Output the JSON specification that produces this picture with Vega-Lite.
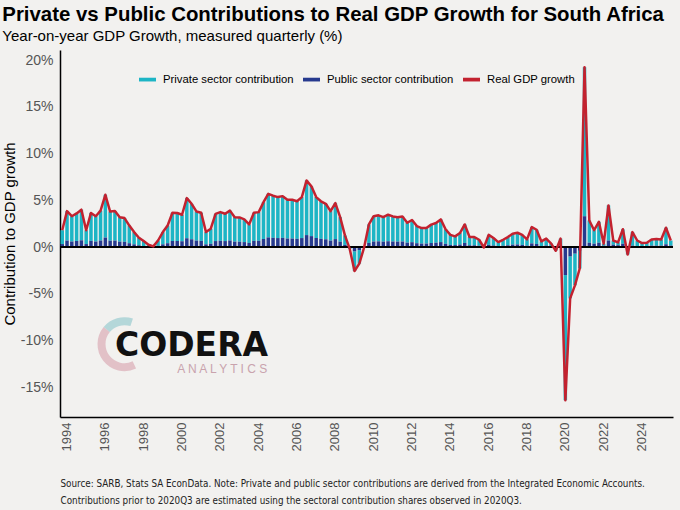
{
  "$schema": "https://vega.github.io/schema/vega-lite/v6.json",
  "autosize": {"type": "none"},
  "padding": {"left": 60, "top": 50, "right": 7, "bottom": 93},
  "width": 613,
  "height": 367,
  "background": "#f2f1ef",
  "title": {
    "text": "Private vs Public Contributions to Real GDP Growth for South Africa",
    "subtitle": "Year-on-year GDP Growth, measured quarterly (%)",
    "anchor": "start",
    "frame": "bounds",
    "font": "Liberation Sans",
    "fontSize": 20.4,
    "fontWeight": "bold",
    "color": "black",
    "subtitleFont": "Liberation Sans",
    "subtitleFontSize": 15,
    "subtitleColor": "black",
    "subtitlePadding": 4,
    "offset": 6
  },
  "data": {
    "values": [
      {"q": "1994Q1", "gdp": 1.8, "public": 0.32, "private": 1.48},
      {"q": "1994Q2", "gdp": 3.85, "public": 0.69, "private": 3.16},
      {"q": "1994Q3", "gdp": 3.3, "public": 0.59, "private": 2.71},
      {"q": "1994Q4", "gdp": 3.6, "public": 0.65, "private": 2.95},
      {"q": "1995Q1", "gdp": 4.0, "public": 0.72, "private": 3.28},
      {"q": "1995Q2", "gdp": 1.8, "public": 0.32, "private": 1.48},
      {"q": "1995Q3", "gdp": 3.65, "public": 0.66, "private": 2.99},
      {"q": "1995Q4", "gdp": 3.3, "public": 0.59, "private": 2.71},
      {"q": "1996Q1", "gdp": 3.9, "public": 0.70, "private": 3.20},
      {"q": "1996Q2", "gdp": 5.6, "public": 1.01, "private": 4.59},
      {"q": "1996Q3", "gdp": 3.8, "public": 0.68, "private": 3.12},
      {"q": "1996Q4", "gdp": 3.85, "public": 0.69, "private": 3.16},
      {"q": "1997Q1", "gdp": 3.2, "public": 0.58, "private": 2.62},
      {"q": "1997Q2", "gdp": 3.1, "public": 0.56, "private": 2.54},
      {"q": "1997Q3", "gdp": 2.3, "public": 0.41, "private": 1.89},
      {"q": "1997Q4", "gdp": 1.6, "public": 0.29, "private": 1.31},
      {"q": "1998Q1", "gdp": 1.0, "public": 0.18, "private": 0.82},
      {"q": "1998Q2", "gdp": 0.64, "public": 0.12, "private": 0.52},
      {"q": "1998Q3", "gdp": 0.25, "public": 0.05, "private": 0.20},
      {"q": "1998Q4", "gdp": 0.07, "public": 0.01, "private": 0.06},
      {"q": "1999Q1", "gdp": 0.7, "public": 0.13, "private": 0.57},
      {"q": "1999Q2", "gdp": 1.6, "public": 0.29, "private": 1.31},
      {"q": "1999Q3", "gdp": 2.3, "public": 0.41, "private": 1.89},
      {"q": "1999Q4", "gdp": 3.67, "public": 0.66, "private": 3.01},
      {"q": "2000Q1", "gdp": 3.64, "public": 0.66, "private": 2.98},
      {"q": "2000Q2", "gdp": 3.46, "public": 0.62, "private": 2.84},
      {"q": "2000Q3", "gdp": 5.24, "public": 0.94, "private": 4.30},
      {"q": "2000Q4", "gdp": 4.63, "public": 0.83, "private": 3.80},
      {"q": "2001Q1", "gdp": 3.81, "public": 0.69, "private": 3.12},
      {"q": "2001Q2", "gdp": 3.67, "public": 0.66, "private": 3.01},
      {"q": "2001Q3", "gdp": 1.6, "public": 0.29, "private": 1.31},
      {"q": "2001Q4", "gdp": 1.96, "public": 0.35, "private": 1.61},
      {"q": "2002Q1", "gdp": 3.55, "public": 0.64, "private": 2.91},
      {"q": "2002Q2", "gdp": 3.74, "public": 0.67, "private": 3.07},
      {"q": "2002Q3", "gdp": 3.56, "public": 0.64, "private": 2.92},
      {"q": "2002Q4", "gdp": 3.9, "public": 0.70, "private": 3.20},
      {"q": "2003Q1", "gdp": 3.2, "public": 0.58, "private": 2.62},
      {"q": "2003Q2", "gdp": 3.17, "public": 0.57, "private": 2.60},
      {"q": "2003Q3", "gdp": 2.96, "public": 0.53, "private": 2.43},
      {"q": "2003Q4", "gdp": 2.42, "public": 0.44, "private": 1.98},
      {"q": "2004Q1", "gdp": 3.67, "public": 0.66, "private": 3.01},
      {"q": "2004Q2", "gdp": 3.74, "public": 0.67, "private": 3.07},
      {"q": "2004Q3", "gdp": 4.8, "public": 0.86, "private": 3.94},
      {"q": "2004Q4", "gdp": 5.7, "public": 1.03, "private": 4.67},
      {"q": "2005Q1", "gdp": 5.5, "public": 0.99, "private": 4.51},
      {"q": "2005Q2", "gdp": 5.35, "public": 0.96, "private": 4.39},
      {"q": "2005Q3", "gdp": 5.45, "public": 0.98, "private": 4.47},
      {"q": "2005Q4", "gdp": 5.06, "public": 0.91, "private": 4.15},
      {"q": "2006Q1", "gdp": 5.06, "public": 0.91, "private": 4.15},
      {"q": "2006Q2", "gdp": 4.9, "public": 0.88, "private": 4.02},
      {"q": "2006Q3", "gdp": 5.35, "public": 0.96, "private": 4.39},
      {"q": "2006Q4", "gdp": 7.13, "public": 1.28, "private": 5.85},
      {"q": "2007Q1", "gdp": 6.5, "public": 1.17, "private": 5.33},
      {"q": "2007Q2", "gdp": 5.35, "public": 0.96, "private": 4.39},
      {"q": "2007Q3", "gdp": 4.9, "public": 0.88, "private": 4.02},
      {"q": "2007Q4", "gdp": 4.63, "public": 0.83, "private": 3.80},
      {"q": "2008Q1", "gdp": 3.85, "public": 0.69, "private": 3.16},
      {"q": "2008Q2", "gdp": 4.7, "public": 0.85, "private": 3.85},
      {"q": "2008Q3", "gdp": 3.2, "public": 0.58, "private": 2.62},
      {"q": "2008Q4", "gdp": 1.25, "public": 0.23, "private": 1.02},
      {"q": "2009Q1", "gdp": -0.2, "public": -0.04, "private": -0.16},
      {"q": "2009Q2", "gdp": -2.57, "public": -0.46, "private": -2.11},
      {"q": "2009Q3", "gdp": -1.78, "public": -0.32, "private": -1.46},
      {"q": "2009Q4", "gdp": -0.05, "public": -0.01, "private": -0.04},
      {"q": "2010Q1", "gdp": 2.42, "public": 0.44, "private": 1.98},
      {"q": "2010Q2", "gdp": 3.3, "public": 0.59, "private": 2.71},
      {"q": "2010Q3", "gdp": 3.4, "public": 0.61, "private": 2.79},
      {"q": "2010Q4", "gdp": 3.2, "public": 0.58, "private": 2.62},
      {"q": "2011Q1", "gdp": 3.46, "public": 0.62, "private": 2.84},
      {"q": "2011Q2", "gdp": 3.28, "public": 0.59, "private": 2.69},
      {"q": "2011Q3", "gdp": 3.2, "public": 0.58, "private": 2.62},
      {"q": "2011Q4", "gdp": 3.28, "public": 0.59, "private": 2.69},
      {"q": "2012Q1", "gdp": 2.6, "public": 0.47, "private": 2.13},
      {"q": "2012Q2", "gdp": 2.9, "public": 0.52, "private": 2.38},
      {"q": "2012Q3", "gdp": 2.25, "public": 0.41, "private": 1.84},
      {"q": "2012Q4", "gdp": 2.03, "public": 0.37, "private": 1.66},
      {"q": "2013Q1", "gdp": 2.03, "public": 0.37, "private": 1.66},
      {"q": "2013Q2", "gdp": 2.4, "public": 0.43, "private": 1.97},
      {"q": "2013Q3", "gdp": 2.57, "public": 0.46, "private": 2.11},
      {"q": "2013Q4", "gdp": 2.96, "public": 0.53, "private": 2.43},
      {"q": "2014Q1", "gdp": 1.9, "public": 0.34, "private": 1.56},
      {"q": "2014Q2", "gdp": 1.3, "public": 0.23, "private": 1.07},
      {"q": "2014Q3", "gdp": 1.14, "public": 0.21, "private": 0.93},
      {"q": "2014Q4", "gdp": 1.5, "public": 0.27, "private": 1.23},
      {"q": "2015Q1", "gdp": 2.42, "public": 0.44, "private": 1.98},
      {"q": "2015Q2", "gdp": 1.07, "public": 0.19, "private": 0.88},
      {"q": "2015Q3", "gdp": 1.07, "public": 0.19, "private": 0.88},
      {"q": "2015Q4", "gdp": 0.78, "public": 0.14, "private": 0.64},
      {"q": "2016Q1", "gdp": -0.05, "public": -0.01, "private": -0.04},
      {"q": "2016Q2", "gdp": 1.3, "public": 0.23, "private": 1.07},
      {"q": "2016Q3", "gdp": 0.96, "public": 0.17, "private": 0.79},
      {"q": "2016Q4", "gdp": 0.53, "public": 0.10, "private": 0.43},
      {"q": "2017Q1", "gdp": 0.78, "public": 0.14, "private": 0.64},
      {"q": "2017Q2", "gdp": 1.07, "public": 0.19, "private": 0.88},
      {"q": "2017Q3", "gdp": 1.43, "public": 0.26, "private": 1.17},
      {"q": "2017Q4", "gdp": 1.53, "public": 0.28, "private": 1.25},
      {"q": "2018Q1", "gdp": 1.3, "public": 0.23, "private": 1.07},
      {"q": "2018Q2", "gdp": 0.82, "public": 0.15, "private": 0.67},
      {"q": "2018Q3", "gdp": 2.14, "public": 0.39, "private": 1.75},
      {"q": "2018Q4", "gdp": 1.85, "public": 0.33, "private": 1.52},
      {"q": "2019Q1", "gdp": 0.6, "public": 0.11, "private": 0.49},
      {"q": "2019Q2", "gdp": 0.9, "public": 0.16, "private": 0.74},
      {"q": "2019Q3", "gdp": 0.4, "public": 0.07, "private": 0.33},
      {"q": "2019Q4", "gdp": -0.4, "public": -0.07, "private": -0.33},
      {"q": "2020Q1", "gdp": 0.9, "public": 0.16, "private": 0.74},
      {"q": "2020Q2", "gdp": -16.4, "public": -3.0, "private": -13.4},
      {"q": "2020Q3", "gdp": -5.5, "public": -1.0, "private": -4.5},
      {"q": "2020Q4", "gdp": -4.1, "public": -0.7, "private": -3.4},
      {"q": "2021Q1", "gdp": -2.3, "public": -0.4, "private": -1.9},
      {"q": "2021Q2", "gdp": 19.25, "public": 3.3, "private": 15.95},
      {"q": "2021Q3", "gdp": 2.85, "public": 0.46, "private": 2.39},
      {"q": "2021Q4", "gdp": 1.8, "public": 0.36, "private": 1.44},
      {"q": "2022Q1", "gdp": 2.7, "public": 0.46, "private": 2.24},
      {"q": "2022Q2", "gdp": 0.36, "public": 0.15, "private": 0.21},
      {"q": "2022Q3", "gdp": 4.46, "public": 0.7, "private": 3.76},
      {"q": "2022Q4", "gdp": 0.7, "public": 0.25, "private": 0.45},
      {"q": "2023Q1", "gdp": 0.5, "public": 0.2, "private": 0.3},
      {"q": "2023Q2", "gdp": 1.9, "public": 0.35, "private": 1.55},
      {"q": "2023Q3", "gdp": -0.8, "public": -0.1, "private": -0.7},
      {"q": "2023Q4", "gdp": 1.6, "public": 0.15, "private": 1.45},
      {"q": "2024Q1", "gdp": 0.7, "public": 0.1, "private": 0.6},
      {"q": "2024Q2", "gdp": 0.43, "public": 0.1, "private": 0.33},
      {"q": "2024Q3", "gdp": 0.46, "public": 0.1, "private": 0.36},
      {"q": "2024Q4", "gdp": 0.8, "public": 0.15, "private": 0.65},
      {"q": "2025Q1", "gdp": 0.86, "public": 0.15, "private": 0.71},
      {"q": "2025Q2", "gdp": 0.8, "public": 0.15, "private": 0.65},
      {"q": "2025Q3", "gdp": 2.07, "public": 0.3, "private": 1.77},
      {"q": "2025Q4", "gdp": 0.7, "public": 0.15, "private": 0.55}
    ]
  },
  "encoding": {
    "x": {
      "field": "q",
      "type": "ordinal",
      "scale": {"paddingInner": 0.27, "paddingOuter": 0.1},
      "axis": {
        "values": ["1994Q2", "1996Q2", "1998Q2", "2000Q2", "2002Q2", "2004Q2", "2006Q2", "2008Q2", "2010Q2", "2012Q2", "2014Q2", "2016Q2", "2018Q2", "2020Q2", "2022Q2", "2024Q2"],
        "labelExpr": "substring(datum.label, 0, 4)",
        "labelAngle": 270,
        "labelAlign": "right",
        "labelBaseline": "middle",
        "labelPadding": 5,
        "labelFontSize": 13,
        "labelColor": "#555555",
        "ticks": false,
        "domainColor": "black",
        "domainWidth": 1.5,
        "title": [
          "Source: SARB, Stats SA EconData. Note: Private and public sector contributions are derived from the Integrated Economic Accounts.",
          "Contributions prior to 2020Q3 are estimated using the sectoral contribution shares observed in 2020Q3."
        ],
        "titleFont": "DejaVu Sans Condensed",
        "titleFontSize": 9.8,
        "titleFontWeight": "normal",
        "titleColor": "#222222",
        "titleAnchor": "start",
        "titleAlign": "left",
        "titleLineHeight": 17,
        "titlePadding": 28
      }
    }
  },
  "layer": [
    {
      "transform": [{"fold": ["private", "public"], "as": ["key", "value"]}],
      "mark": {"type": "bar"},
      "encoding": {
        "y": {
          "field": "value",
          "type": "quantitative",
          "stack": "zero",
          "scale": {"domain": [-18.2, 21.1], "nice": false, "zero": false},
          "axis": {
            "values": [-15, -10, -5, 0, 5, 10, 15, 20],
            "labelExpr": "datum.value + '%'",
            "labelFontSize": 14,
            "labelColor": "#555555",
            "labelPadding": 7,
            "ticks": false,
            "grid": false,
            "domainColor": "black",
            "domainWidth": 1.5,
            "title": "Contribution to GDP growth",
            "titleFontSize": 15,
            "titleFontWeight": "normal",
            "titleColor": "black",
            "titlePadding": 3
          }
        },
        "color": {
          "field": "key",
          "type": "nominal",
          "scale": {
            "domain": ["private", "public", "gdp"],
            "range": ["#1db5c5", "#273a8e", "#c3222f"]
          },
          "legend": {
            "orient": "none",
            "legendX": 78,
            "legendY": 20,
            "direction": "horizontal",
            "columns": 3,
            "title": null,
            "padding": 0,
            "labelExpr": "datum.label == 'private' ? 'Private sector contribution' : datum.label == 'public' ? 'Public sector contribution' : 'Real GDP growth'",
            "labelFontSize": 11.3,
            "labelColor": "black",
            "labelOffset": 6,
            "columnPadding": 8,
            "symbolType": "M-1,-0.22 L1,-0.22 L1,0.22 L-1,0.22 Z",
            "symbolSize": 289,
            "symbolOpacity": 1
          }
        },
        "order": {"field": "key", "sort": "descending"}
      }
    },
    {
      "mark": {"type": "rule", "color": "black", "strokeWidth": 1.5},
      "encoding": {"x": null, "y": {"datum": 0}}
    },
    {
      "mark": {"type": "line", "color": "#c3222f", "strokeWidth": 2.5, "strokeJoin": "round"},
      "encoding": {
        "y": {"field": "gdp", "type": "quantitative"}
      }
    },
    {
      "data": {"values": [{}]},
      "mark": {"type": "arc", "radius": 27, "radius2": 19, "theta": 2.7, "theta2": 5.4, "color": "#dcb0ba", "opacity": 0.75},
      "encoding": {"x": {"datum": "1997Q2"}, "y": {"datum": -10.4}}
    },
    {
      "data": {"values": [{}]},
      "mark": {"type": "arc", "radius": 27, "radius2": 19, "theta": 5.4, "theta2": 6.6, "color": "#9fcdd2", "opacity": 0.75},
      "encoding": {"x": {"datum": "1997Q2"}, "y": {"datum": -10.4}}
    },
    {
      "data": {"values": [{}]},
      "mark": {"type": "text", "text": "CODERA", "align": "left", "baseline": "alphabetic", "font": "DejaVu Sans", "fontWeight": "bold", "fontSize": 33, "color": "#111111"},
      "encoding": {"x": {"datum": "1996Q4"}, "y": {"datum": -11.7}}
    },
    {
      "data": {"values": [{}]},
      "mark": {"type": "text", "text": "A N A L Y T I C S", "align": "left", "baseline": "alphabetic", "fontSize": 12, "color": "#c9a3ad"},
      "encoding": {"x": {"datum": "2000Q1"}, "y": {"datum": -13.45}}
    }
  ],
  "config": {
    "font": "Liberation Sans",
    "view": {"stroke": null},
    "axis": {"grid": false}
  }
}
